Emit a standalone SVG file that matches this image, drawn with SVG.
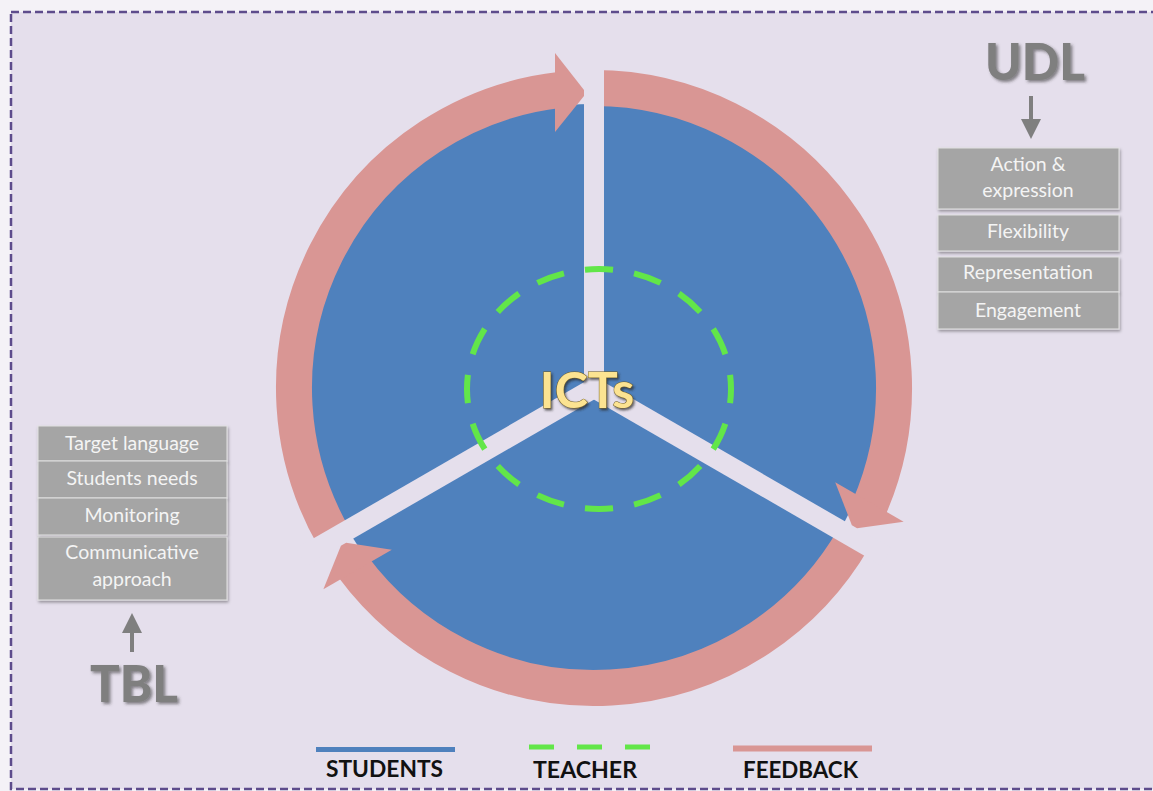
<svg xmlns="http://www.w3.org/2000/svg" xmlns:xlink="http://www.w3.org/1999/xlink" width="1153" height="791" viewBox="0 0 1153 791">
  <style>
    .frame { fill: #E5DFEC; stroke: #5E4C8C; stroke-width: 2.5; stroke-dasharray: 8 4; }
    .shaft { fill: none; stroke: #D99694; stroke-width: 36; }
    .head { fill: #D99694; }
    .spoke { stroke: #E5DFEC; stroke-width: 20; }
    .box { fill: #A5A5A5; stroke: #E2E2E2; stroke-width: 1; filter: url(#boxShadow); }
    .boxText { font-family: Lato, "Liberation Sans", sans-serif; font-size: 19.5px; fill: #F4F4F4; text-anchor: middle; }
    .title { font-family: Lato, "Liberation Sans", sans-serif; font-weight: 900; font-size: 52px; fill: #7F7F7F; filter: url(#textShadow); }
    .legendText { font-family: Lato, "Liberation Sans", sans-serif; font-weight: 700; font-size: 23px; fill: #111111; }
    .pointer { stroke: #7F7F7F; stroke-width: 4; fill: none; marker-end: url(#grayHead); }
  </style>
  <defs>
    <filter id="boxShadow" x="-10%" y="-20%" width="120%" height="150%">
      <feDropShadow dx="1" dy="2" stdDeviation="1.5" flood-color="#000000" flood-opacity="0.35"/>
    </filter>
    <filter id="textShadow" x="-10%" y="-10%" width="130%" height="140%">
      <feDropShadow dx="2" dy="2" stdDeviation="1.5" flood-color="#333333" flood-opacity="0.55"/>
    </filter>
    <filter id="ictShadow" x="-10%" y="-10%" width="130%" height="140%">
      <feDropShadow dx="1.5" dy="2" stdDeviation="1" flood-color="#2A2A2A" flood-opacity="0.7"/>
    </filter>
    <marker id="grayHead" viewBox="0 0 10 10" refX="2" refY="5" markerWidth="5" markerHeight="5" orient="auto" markerUnits="strokeWidth">
      <path d="M0,0 L10,5 L0,10 Z" fill="#7F7F7F"/>
    </marker>
    <!-- one feedback arc, drawn with its arrowhead at the top -->
    <path id="arcShaft" class="shaft" d="M 334.2 538 A 300 300 0 0 1 560 89.9"/>
    <polygon id="arcHead" class="head" points="555,53 584,90 584,96 555,132"/>
  </defs>

  <!-- page and dashed frame -->
  <rect x="0" y="0" width="1153" height="791" fill="#F4F2F7"/>
  <rect class="frame" x="11" y="12" width="1160" height="777"/>

  <!-- students disk -->
  <g id="students">
    <circle cx="594" cy="388" r="284" fill="#4F81BD"/>
  </g>

  <!-- feedback ring and the three dividing spokes -->
  <g id="connectors">
    <g id="feedback-shafts">
      <use xlink:href="#arcShaft"/>
      <use xlink:href="#arcShaft" transform="rotate(120 594 388)"/>
      <use xlink:href="#arcShaft" transform="rotate(240 594 388)"/>
    </g>
    <g id="spokes">
      <line class="spoke" x1="594" y1="388" x2="594" y2="50"/>
      <line class="spoke" x1="594" y1="388" x2="886.7" y2="557"/>
      <line class="spoke" x1="594" y1="388" x2="301.3" y2="557"/>
      <circle cx="594" cy="388" r="10" fill="#E5DFEC"/>
    </g>
    <g id="feedback-heads">
      <use xlink:href="#arcHead"/>
      <use xlink:href="#arcHead" transform="rotate(120 594 388)"/>
      <use xlink:href="#arcHead" transform="rotate(240 594 388)"/>
    </g>
  </g>

  <!-- teacher ring -->
  <g id="teacher">
    <ellipse cx="599" cy="389" rx="132" ry="120" fill="none" stroke="#62E649" stroke-width="6" pathLength="800" stroke-dasharray="28.5 21.5" stroke-dashoffset="14.25"/>
  </g>

  <!-- centre label -->
  <g id="icts">
    <text x="587" y="408" text-anchor="middle" font-family="Lato, 'Liberation Sans', sans-serif" font-weight="700" font-size="50" fill="#FCE391" stroke="#6E5C25" stroke-width="1" paint-order="stroke" filter="url(#ictShadow)">ICTs</text>
  </g>

  <!-- UDL column -->
  <g id="udl">
    <text class="title" x="985" y="80" textLength="100" lengthAdjust="spacingAndGlyphs">UDL</text>
    <line class="pointer" x1="1031" y1="96" x2="1031" y2="123"/>
  </g>
  <g id="udl-action">
    <rect class="box" x="938" y="148" width="181" height="61"/>
    <text class="boxText" x="1028" y="171">Action &amp;</text>
    <text class="boxText" x="1028" y="197">expression</text>
  </g>
  <g id="udl-flexibility">
    <rect class="box" x="938" y="215" width="181" height="36"/>
    <text class="boxText" x="1028" y="238">Flexibility</text>
  </g>
  <g id="udl-representation">
    <rect class="box" x="938" y="257" width="181" height="35"/>
    <text class="boxText" x="1028" y="279">Representation</text>
  </g>
  <g id="udl-engagement">
    <rect class="box" x="938" y="292" width="181" height="37"/>
    <text class="boxText" x="1028" y="317">Engagement</text>
  </g>

  <!-- TBL column -->
  <g id="tbl-target">
    <rect class="box" x="38" y="426" width="189" height="35"/>
    <text class="boxText" x="132" y="450">Target language</text>
  </g>
  <g id="tbl-needs">
    <rect class="box" x="38" y="461" width="189" height="37"/>
    <text class="boxText" x="132" y="485">Students needs</text>
  </g>
  <g id="tbl-monitoring">
    <rect class="box" x="38" y="498" width="189" height="37"/>
    <text class="boxText" x="132" y="522">Monitoring</text>
  </g>
  <g id="tbl-communicative">
    <rect class="box" x="38" y="537" width="189" height="63"/>
    <text class="boxText" x="132" y="559">Communicative</text>
    <text class="boxText" x="132" y="586">approach</text>
  </g>
  <g id="tbl">
    <line class="pointer" x1="132" y1="652" x2="132" y2="629"/>
    <text class="title" x="90" y="702" textLength="88" lengthAdjust="spacingAndGlyphs">TBL</text>
  </g>

  <!-- legend -->
  <g id="legend">
    <line x1="316" y1="749.5" x2="455" y2="749.5" stroke="#4F81BD" stroke-width="5"/>
    <text class="legendText" x="326" y="777" textLength="117" lengthAdjust="spacingAndGlyphs">STUDENTS</text>
    <line x1="529" y1="747" x2="652" y2="747" stroke="#62E649" stroke-width="5" stroke-dasharray="25 23"/>
    <text class="legendText" x="533" y="778" textLength="104" lengthAdjust="spacingAndGlyphs">TEACHER</text>
    <line x1="733" y1="748.5" x2="872" y2="748.5" stroke="#D99694" stroke-width="6"/>
    <text class="legendText" x="743" y="778" textLength="115" lengthAdjust="spacingAndGlyphs">FEEDBACK</text>
  </g>
</svg>
